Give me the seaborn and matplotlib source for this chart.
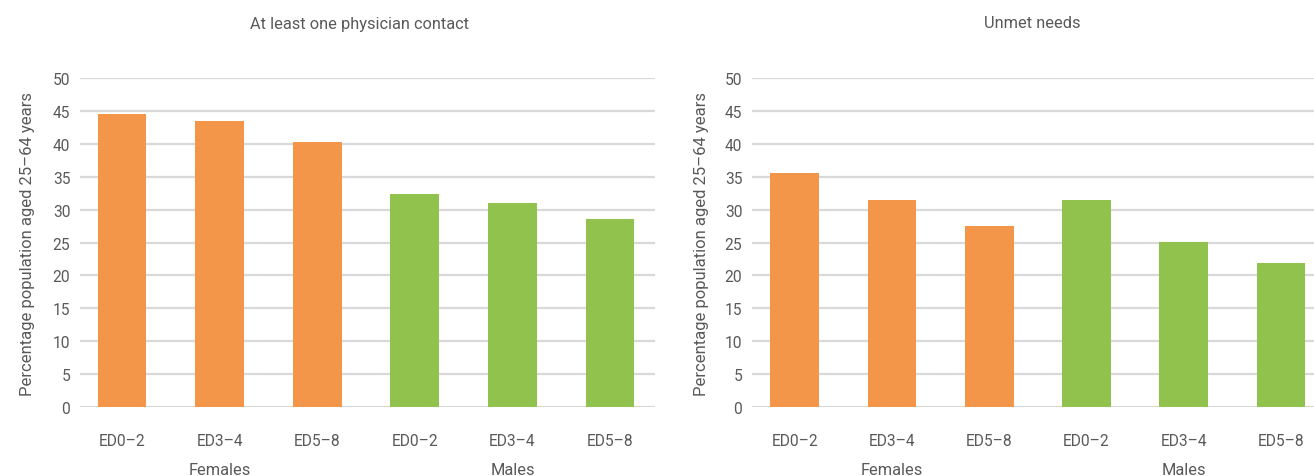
import matplotlib
matplotlib.use("Agg")
import matplotlib.pyplot as plt
from matplotlib import font_manager as fm
import seaborn as sns
import pandas as pd

sexes = ["Females", "Females", "Females", "Males", "Males", "Males"]
education = ["ED0–2", "ED3–4", "ED5–8", "ED0–2", "ED3–4", "ED5–8"]
physician_contact = [44.6, 43.5, 40.3, 32.3, 31.0, 28.5]
unmet_needs = [35.5, 31.5, 27.5, 31.5, 25.1, 21.9]
panel_titles = ["At least one physician contact", "Unmet needs"]
ylabel = "Percentage population aged 25–64 years"
palette = {"Females": "#F4964A", "Males": "#92C24E"}

sns.set_theme(style="white")
names = {f.name for f in fm.fontManager.ttflist}
chosen = "Liberation Sans Narrow" if "Liberation Sans Narrow" in names else "Roboto"
plt.rcParams["font.family"] = [chosen, "DejaVu Sans"]
txt = "#595959"
fs = 11.2

fig = plt.figure(figsize=(13.14, 4.77), dpi=100)
W, H = 1314, 477
axes_px = [(80, 655, -0.43, 5.46, 360, 13), (752, 1314, -0.44, 5.34, 1032, 11)]

for (l, r, x0, x1, tx, lp), vals, title in zip(axes_px, [physician_contact, unmet_needs], panel_titles):
    ax = fig.add_axes([l / W, 69 / H, (r - l) / W, 329 / H])
    df = pd.DataFrame({"key": [f"{s}|{e}" for s, e in zip(sexes, education)],
                       "sex": sexes, "value": vals})
    sns.barplot(data=df, x="key", y="value", hue="sex", palette=palette,
                dodge=False, width=0.5, ax=ax, legend=False, saturation=1,
                linewidth=0, edgecolor="none")
    ax.set_xlim(x0, x1)
    ax.set_ylim(0, 50)
    ax.set_yticks(range(0, 51, 5))
    ax.yaxis.grid(True, color="#D9D9D9", linewidth=1.6)
    ax.set_axisbelow(True)
    for s in ax.spines.values():
        s.set_visible(False)
    ax.set_xticks(range(6))
    ax.set_xticklabels(education)
    ax.tick_params(axis="both", length=0, colors=txt, labelsize=fs)
    ax.tick_params(axis="x", pad=19)
    ax.tick_params(axis="y", pad=7)
    ax.set_xlabel("")
    ax.set_ylabel(ylabel, color=txt, fontsize=12, labelpad=lp)
    ax.text(1, -0.19, "Females", transform=ax.get_xaxis_transform(),
            ha="center", va="center", color=txt, fontsize=11.8)
    ax.text(4, -0.19, "Males", transform=ax.get_xaxis_transform(),
            ha="center", va="center", color=txt, fontsize=11.8)
    fig.text(tx / W, 1 - 24 / H, title, ha="center", va="center", color=txt, fontsize=11.8)

fig.savefig("out.png", dpi=100)
